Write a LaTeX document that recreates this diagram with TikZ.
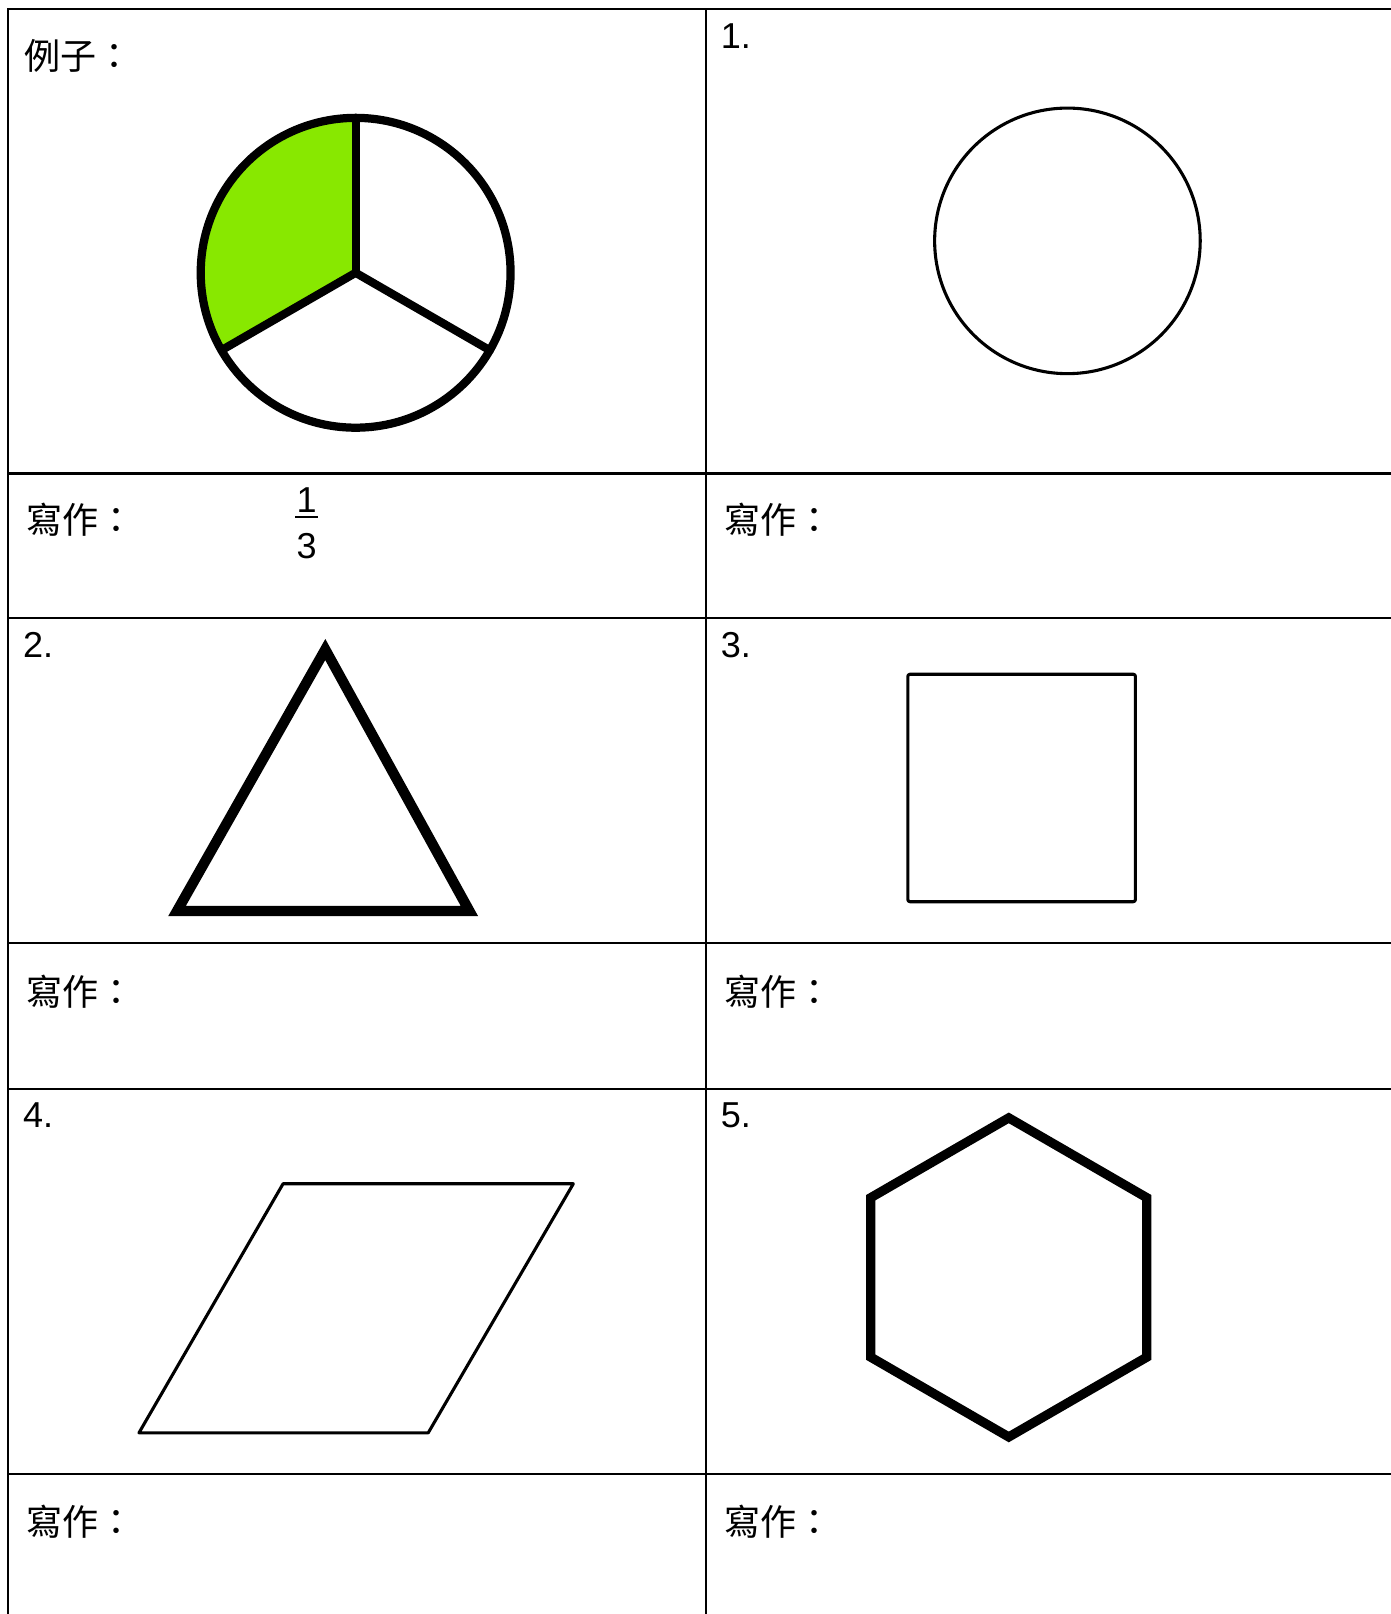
\documentclass[tikz,border=0pt]{standalone}
\usepackage{fontspec}
\setmainfont{Liberation Sans}
\newfontfamily\cjk{Noto Sans CJK TC}
\definecolor{piegreen}{RGB}{136,232,0}
\begin{document}
\begin{tikzpicture}[x=0.5pt,y=-0.5pt,
  gridline/.style={line width=1pt,black},
  numlabel/.style={anchor=west,inner sep=0pt,font=\fontsize{17.5}{20}\selectfont},
  digit/.style={inner sep=0pt,font=\fontsize{17.5}{20}\selectfont},
  cjklabel/.style={anchor=west,inner sep=0pt,font=\cjk\fontsize{17.5}{21}\selectfont},
  pieline/.style={line width=4pt,line cap=round,line join=round},
  thinshape/.style={line width=1.5pt,line join=round},
  thickshape/.style={line width=5pt,line join=miter}]
\useasboundingbox (0,0) rectangle (1351,1568);
\fill[white] (0,0) rectangle (1351,1568);
% grid
\draw[gridline] (1351,9) -- (8,9) -- (8,1568);
\draw[gridline] (686,9) -- (686,1568);
\foreach \yy in {460,600,916,1058,1432}{
  \draw[gridline] (8,\yy) -- (1351,\yy);
}
% labels
\node[cjklabel] (ex) at (23,54) {例子：};
\node[numlabel] (n1) at (700,35) {1.};
\node[numlabel] (n2) at (22,627) {2.};
\node[numlabel] (n3) at (700,627) {3.};
\node[numlabel] (n4) at (22,1083) {4.};
\node[numlabel] (n5) at (700,1083) {5.};
\node[cjklabel] (w0) at (25,505) {寫作：};
\node[cjklabel] (w1) at (703,505) {寫作：};
\node[cjklabel] (w2) at (25,963) {寫作：};
\node[cjklabel] (w3) at (703,963) {寫作：};
\node[cjklabel] (w4) at (25,1478) {寫作：};
\node[cjklabel] (w5) at (703,1478) {寫作：};
% fraction
\node[digit] (fnum) at (298,486) {1};
\node[digit] (fden) at (298,531) {3};
\coordinate (barl) at (287,502);
\coordinate (barr) at (309,502);
\draw[line width=1pt] (barl) -- (barr);
% example pie
\coordinate (pc) at (345.5,265);
\coordinate (ptop) at (345.5,114.5);
\coordinate (pleft) at (215.2,340.25);
\coordinate (pright) at (475.8,340.25);
\fill[piegreen] (pc) -- (ptop) arc[start angle=270,end angle=150,radius=150.5] -- cycle;
\draw[pieline] (pc) circle[radius=150.5];
\draw[pieline] (pc) -- (ptop);
\draw[pieline] (pc) -- (pleft);
\draw[pieline] (pc) -- (pright);
% 1. circle
\coordinate (c1) at (1037,234);
\draw[thinshape] (c1) circle[radius=129];
% 2. triangle
\draw[thickshape] (172,885) -- (456,885) -- (316,631) -- cycle;
% 3. square
\draw[thinshape,rounded corners=1pt] (882,655) rectangle (1103,876);
% 4. parallelogram
\draw[thinshape] (275,1150) -- (557,1150) -- (416,1392) -- (135,1392) -- cycle;
% 5. hexagon
\draw[line width=4.5pt,line join=miter] (980,1086) -- (1114,1163.5) -- (1114,1318.5) -- (980,1396) -- (846,1318.5) -- (846,1163.5) -- cycle;
\end{tikzpicture}
\end{document}
